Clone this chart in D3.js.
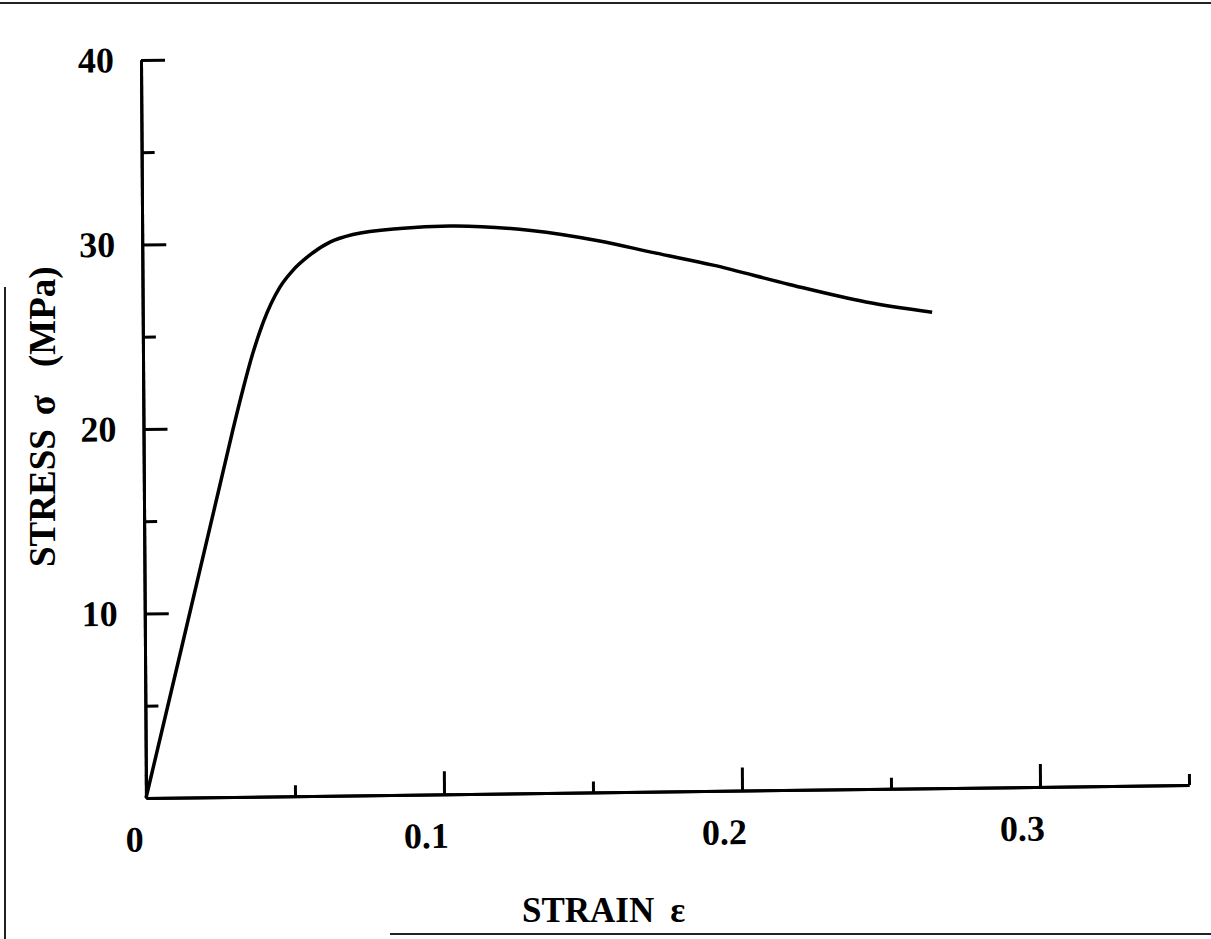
<!DOCTYPE html>
<html>
<head>
<meta charset="utf-8">
<script src="https://cdn.jsdelivr.net/npm/d3@7"></script>
<style>
  body { margin: 0; background: #fff; }
  svg { display: block; }
  .tick text { fill: #000; }
</style>
</head>
<body>
<svg id="chart" width="1211" height="939"></svg>
<script>
// stress-strain curve
const strain = [0, 0.0124, 0.0255, 0.030, 0.0335, 0.0368, 0.0404, 0.0461, 0.0505, 0.0553, 0.063,
  0.0707, 0.0865, 0.1033, 0.1305, 0.153, 0.172, 0.1915, 0.217, 0.2427, 0.2649];
const stress = [0, 8.2, 16.9, 19.9, 22.1, 24.0, 25.7, 27.6, 28.5, 29.2, 30.0,
  30.4, 30.7, 30.8, 30.5, 29.9, 29.2, 28.5, 27.4, 26.4, 25.8];

const xMajor = [0, 0.1, 0.2, 0.3];
const xMinor = [0.05, 0.15, 0.25, 0.35];
const yMajor = [10, 20, 30, 40];
const yMinor = [5, 15, 25, 35];

const svg = d3.select('#chart');
const serif = '"Liberation Serif", "Times New Roman", serif';

svg.append('rect').attr('width', 1211).attr('height', 939).attr('fill', '#fff');

// scan frame lines
svg.append('line').attr('x1', 0).attr('x2', 1211).attr('y1', 3).attr('y2', 3)
  .attr('stroke', '#222').attr('stroke-width', 2);
svg.append('line').attr('x1', 5).attr('x2', 5).attr('y1', 287).attr('y2', 939)
  .attr('stroke', '#222').attr('stroke-width', 2);
svg.append('line').attr('x1', 390).attr('x2', 1211).attr('y1', 934).attr('y2', 934)
  .attr('stroke', '#222').attr('stroke-width', 2);

const x = d3.scaleLinear().domain([0, 0.35]).range([0, 1043]);
const y = d3.scaleLinear().domain([0, 40]).range([0, -738]);

// the original is a slightly skewed scan
const g = svg.append('g')
  .attr('transform', 'translate(146,798) matrix(1,-0.0124,0.0068,1,0,0)');

function styleAxis(sel) {
  sel.attr('font-family', serif).attr('font-size', 36).attr('font-weight', 'bold');
  sel.select('.domain').attr('stroke', '#000').attr('stroke-width', 3);
  sel.selectAll('.tick line').attr('stroke', '#000').attr('stroke-width', 3);
}

g.append('g')
  .call(d3.axisBottom(x).tickValues(xMinor).tickSizeInner(-11).tickSizeOuter(0).tickFormat(''))
  .call(styleAxis);

const xAxis = g.append('g')
  .call(d3.axisBottom(x).tickValues(xMajor).tickSizeInner(-23).tickSizeOuter(0).tickPadding(28)
    .tickFormat(d => d === 0 ? '0' : d3.format('.1f')(d)))
  .call(styleAxis);
xAxis.selectAll('.tick text')
  .attr('text-anchor', 'end')
  .attr('dx', d => d === 0 ? -3 : 4);

g.append('g')
  .call(d3.axisLeft(y).tickValues(yMinor).tickSizeInner(-13).tickSizeOuter(0).tickFormat(''))
  .call(styleAxis);

g.append('g')
  .call(d3.axisLeft(y).tickValues(yMajor).tickSizeInner(-24).tickSizeOuter(0).tickPadding(27)
    .tickFormat(d3.format('d')))
  .call(styleAxis);

const pts = strain.map((s, i) => [s, stress[i]]);
const line = d3.line()
  .x(d => x(d[0]))
  .y(d => y(d[1]))
  .curve(d3.curveMonotoneX);

g.append('path')
  .datum(pts)
  .attr('d', line)
  .attr('fill', 'none')
  .attr('stroke', '#000')
  .attr('stroke-width', 3.5)
  .attr('stroke-linejoin', 'round');

// axis titles
const xt = svg.append('text')
  .attr('x', 522).attr('y', 922)
  .attr('font-family', serif).attr('font-size', 35).attr('font-weight', 'bold');
xt.append('tspan').text('STRAIN');
xt.append('tspan').attr('dx', 16).text('ε');

const yt = svg.append('text')
  .attr('transform', 'translate(55,567) rotate(-90)')
  .attr('font-family', serif).attr('font-size', 37).attr('font-weight', 'bold');
yt.append('tspan').text('STRESS');
yt.append('tspan').attr('dx', 14).text('σ');
yt.append('tspan').attr('dx', 28).text('(MPa)');
</script>
</body>
</html>
